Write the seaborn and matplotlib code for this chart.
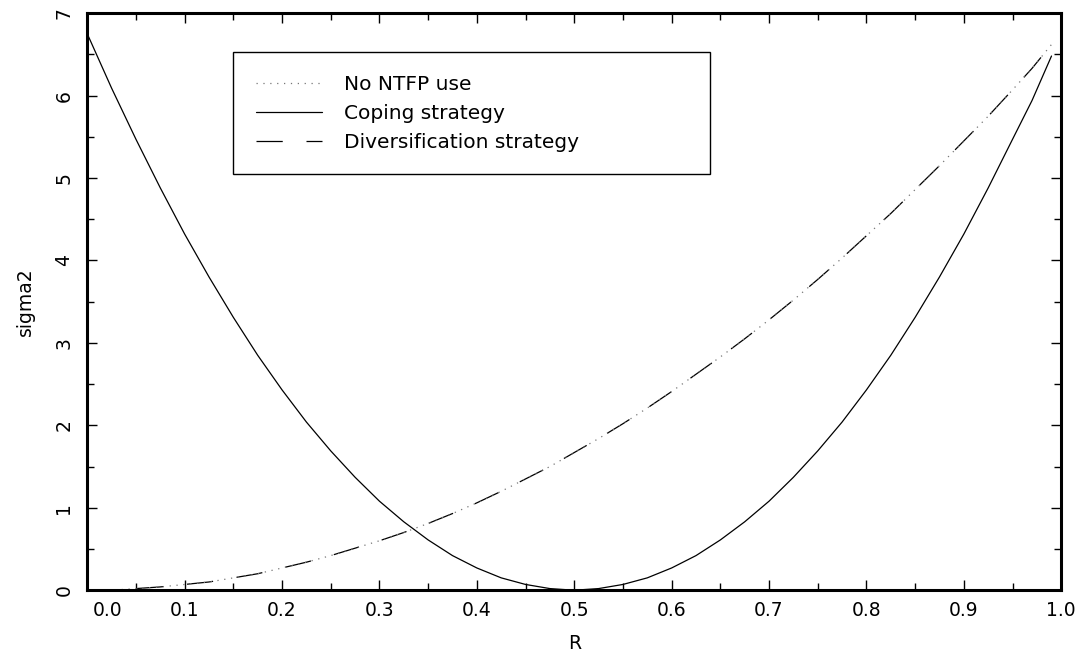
import numpy as np
import pandas as pd
import matplotlib
matplotlib.use("Agg")
import matplotlib.pyplot as plt
import matplotlib.transforms as mtransforms
from matplotlib.ticker import MultipleLocator, FormatStrFormatter
import seaborn as sns

# values
r_values = [0.000, 0.025, 0.050, 0.075, 0.100, 0.125, 0.150, 0.175, 0.200, 0.225,
            0.250, 0.275, 0.300, 0.325, 0.350, 0.375, 0.400, 0.425, 0.450, 0.475,
            0.500, 0.525, 0.550, 0.575, 0.600, 0.625, 0.650, 0.675, 0.700, 0.725,
            0.750, 0.775, 0.800, 0.825, 0.850, 0.875, 0.900, 0.925, 0.950, 0.970,
            0.990]
coping = [6.75, 6.09, 5.47, 4.88, 4.32, 3.80, 3.31, 2.85, 2.43, 2.04,
          1.69, 1.37, 1.08, 0.83, 0.61, 0.42, 0.27, 0.15, 0.07, 0.02,
          0.00, 0.02, 0.07, 0.15, 0.27, 0.42, 0.61, 0.83, 1.08, 1.37,
          1.69, 2.04, 2.43, 2.85, 3.31, 3.80, 4.32, 4.88, 5.47, 5.94,
          6.48]
diversification = [0.00, 0.00, 0.02, 0.04, 0.07, 0.10, 0.15, 0.20, 0.27, 0.34,
                   0.42, 0.51, 0.60, 0.70, 0.81, 0.93, 1.06, 1.20, 1.35, 1.50,
                   1.67, 1.84, 2.02, 2.21, 2.41, 2.62, 2.83, 3.05, 3.28, 3.52,
                   3.77, 4.03, 4.30, 4.57, 4.86, 5.15, 5.45, 5.75, 6.07, 6.33,
                   6.62]
no_ntfp = diversification  # same curve, drawn dotted on top

df = pd.DataFrame({"R": r_values, "coping": coping,
                   "div": diversification, "none": no_ntfp})

sns.set_theme(style="white")
plt.rcParams["font.family"] = ["DejaVu Sans"]
plt.rcParams["text.color"] = "black"
plt.rcParams["axes.labelcolor"] = "black"
plt.rcParams["xtick.color"] = "black"
plt.rcParams["ytick.color"] = "black"

fig, ax = plt.subplots(figsize=(10.84, 6.58), dpi=100)
fig.subplots_adjust(left=0.0805, right=0.979, bottom=0.103, top=0.980)

sns.lineplot(data=df, x="R", y="div", ax=ax, color="black", lw=0.9,
             linestyle=(0, (21, 19)), label="Diversification strategy")
sns.lineplot(data=df, x="R", y="coping", ax=ax, color="black", lw=0.9,
             linestyle="-", label="Coping strategy")
sns.lineplot(data=df, x="R", y="none", ax=ax, color="#777777", lw=0.9,
             linestyle=(0, (1, 4.5)), label="No NTFP use")

ax.set_xlim(0, 1)
ax.set_ylim(0, 7)
ax.xaxis.set_major_locator(MultipleLocator(0.1))
ax.xaxis.set_minor_locator(MultipleLocator(0.05))
ax.yaxis.set_major_locator(MultipleLocator(1))
ax.yaxis.set_minor_locator(MultipleLocator(0.5))
ax.xaxis.set_major_formatter(FormatStrFormatter("%.1f"))
ax.yaxis.set_major_formatter(FormatStrFormatter("%d"))

for side in ax.spines.values():
    side.set_color("black")
    side.set_linewidth(2.2)

ax.tick_params(which="both", direction="in", top=True, right=True,
               bottom=True, left=True, color="black", width=1.0)
ax.tick_params(which="major", length=7, labelsize=13.5, pad=8)
ax.tick_params(which="minor", length=5)
ax.tick_params(axis="y", which="major", pad=10)
for lbl in ax.get_yticklabels():
    lbl.set_rotation(90)
    lbl.set_va("center")

ax.set_xlabel("R", fontsize=13.5, labelpad=10)
ax.set_ylabel("sigma2", fontsize=13.5, labelpad=14)

handles, labels = ax.get_legend_handles_labels()
order = [2, 1, 0]
leg = ax.legend([handles[i] for i in order], [labels[i] for i in order],
                loc="upper left", bbox_to_anchor=(0.150, 0.932, 0.489, 0.0),
                mode="expand", borderaxespad=0, fontsize=14.5, frameon=True,
                fancybox=False, edgecolor="black", framealpha=1, borderpad=1.1,
                labelspacing=0.5, handlelength=3.3, handletextpad=1.1)
leg.get_frame().set_linewidth(1.0)

# nudge the "0.0" label off the corner like the original
fig.canvas.draw()
shift = mtransforms.ScaledTranslation(0.2, 0, fig.dpi_scale_trans)
for tick in ax.xaxis.get_major_ticks():
    if abs(tick.get_loc()) < 1e-9:
        tick.label1.set_transform(tick.label1.get_transform() + shift)

fig.savefig("out.png", dpi=100, facecolor="white")
